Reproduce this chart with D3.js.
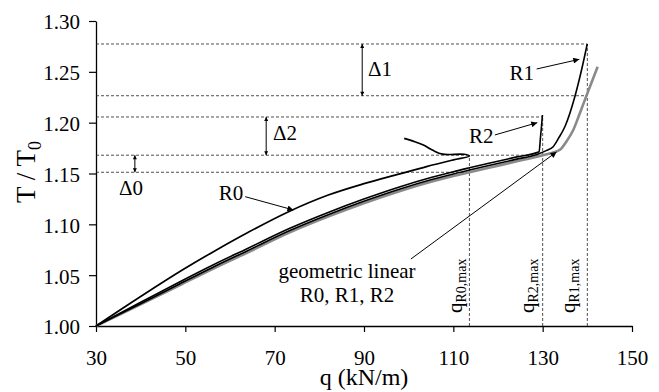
<!DOCTYPE html>
<html>
<head>
<meta charset="utf-8">
<script src="https://cdn.jsdelivr.net/npm/d3@7/dist/d3.min.js"></script>
<style>
    body { margin: 0; background: #fff; }
</style>
</head>
<body>
<script>
//Données (q en kN/m, T/T0)
const xTicks = [30, 50, 70, 90, 110, 130, 150];
const yTicks = [1.00, 1.05, 1.10, 1.15, 1.20, 1.25, 1.30];

const r0 = [[30, 1.000], [40, 1.029], [49.5, 1.0555], [56, 1.0724], [64, 1.092], [73, 1.1122],
    [82, 1.1288], [90, 1.14], [98, 1.1496], [104, 1.1568], [110, 1.1634], [113.6, 1.1672],
    [112.4, 1.1689], [107.6, 1.169], [105.4, 1.1728], [103.3, 1.178], [101.0, 1.1818], [99.0, 1.1845]];

const r1 = [[30, 1.000], [40, 1.0218], [48.8, 1.0416], [56.3, 1.0581], [63.7, 1.0736], [73.4, 1.0939],
    [82.4, 1.1102], [89.8, 1.1224], [98.1, 1.1348], [105, 1.1438], [110, 1.1496], [113.6, 1.1534],
    [118.2, 1.1581], [124, 1.1639], [129, 1.1692], [130.8, 1.1725], [132.35, 1.1764], [133.6, 1.185],
    [134.97, 1.196], [137.2, 1.2255], [138.7, 1.2518], [139.98, 1.2774]];

const r2 = [[30, 1.000], [40, 1.0233], [48.8, 1.0436], [56.3, 1.0603], [63.7, 1.0758], [73.4, 1.0961],
    [82.4, 1.1124], [89.8, 1.1246], [98.1, 1.137], [105, 1.146], [110, 1.1518], [113.6, 1.1556],
    [118.2, 1.1603], [124, 1.1661], [129.2, 1.1713], [129.5, 1.185], [129.75, 1.197], [129.95, 1.2075]];

const linear = [[30, 1.000], [40, 1.0212], [48.8, 1.0403], [56.3, 1.0566], [63.7, 1.0718], [73.4, 1.0921],
    [82.4, 1.1083], [89.8, 1.1205], [98.1, 1.1328], [105, 1.1418], [110, 1.1475], [113.6, 1.1512],
    [118.2, 1.1559], [124, 1.1617], [130, 1.168], [133.9, 1.1735], [135.4, 1.182], [136.85, 1.1928],
    [138.3, 1.209], [139.8, 1.2265], [142.3, 1.255]];

//Charges maximales et niveaux de référence
const qMaxNames = ["R0,max", "R2,max", "R1,max"];
const qMaxValues = [113.6, 130, 140];
const qMaxTops = [1.168, 1.2056, 1.2774];

const levelValues = [1.2774, 1.2265, 1.2056, 1.168, 1.1512];
const levelEnds = [140, 140, 130, 130, 113.6];

const deltaNames = ["\u03941", "\u03942", "\u03940"];
const deltaQ = [89.6, 68.1, 38.7];
const deltaFrom = [1.2774, 1.2056, 1.168];
const deltaTo = [1.2265, 1.168, 1.1512];

const font = "'Liberation Serif', 'Times New Roman', serif";

//Création du canva SVG
const svg = d3.select("body")
    .append("svg")
    .attr("width", 659)
    .attr("height", 392)
    .style("background-color", "#fff")

const x = d3.scaleLinear().domain([30, 150]).range([96, 632]);
const y = d3.scaleLinear().domain([1.0, 1.3]).range([326, 21]);

//Flèches
const defs = svg.append("defs");
defs.append("marker")
    .attr("id", "arrow")
    .attr("viewBox", "0 0 10 10")
    .attr("refX", 10).attr("refY", 5)
    .attr("markerWidth", 9).attr("markerHeight", 6)
    .attr("markerUnits", "userSpaceOnUse")
    .attr("orient", "auto")
    .append("path").attr("d", "M0,0L10,5L0,10z").attr("fill", "#000");
defs.append("marker")
    .attr("id", "small")
    .attr("viewBox", "0 0 10 10")
    .attr("refX", 10).attr("refY", 5)
    .attr("markerWidth", 5).attr("markerHeight", 4)
    .attr("markerUnits", "userSpaceOnUse")
    .attr("orient", "auto-start-reverse")
    .append("path").attr("d", "M0,0L10,5L0,10z").attr("fill", "#000");

//Axes
const xAxis = svg.append("g")
    .attr("transform", "translate(0,326)")
    .call(d3.axisBottom(x).tickValues(xTicks).tickSize(6).tickSizeOuter(0).tickPadding(18))
    .attr("font-size", 21);
xAxis.select(".domain").attr("stroke-width", 1.3);
xAxis.selectAll(".tick line").attr("stroke-width", 1.2);
xAxis.selectAll(".tick text").attr("fill", "#000");

const yAxis = svg.append("g")
    .attr("transform", "translate(96,0)")
    .call(d3.axisLeft(y).tickValues(yTicks).tickFormat(d3.format(".2f")).tickSize(7).tickSizeOuter(0).tickPadding(9))
    .attr("font-size", 21);
yAxis.select(".domain").attr("stroke-width", 1.3);
yAxis.selectAll(".tick line").attr("stroke-width", 1.2);
yAxis.selectAll(".tick text").attr("dy", "0.38em").attr("fill", "#000");

//Lignes pointillées
const dash = svg.append("g")
    .attr("stroke", "#222")
    .attr("stroke-width", 0.8)
    .attr("stroke-dasharray", "3,2")

dash.selectAll(".hline")
    .data(levelValues)
    .enter()
    .append("line")
    .attr("x1", x(30))
    .attr("x2", (d, i) => x(levelEnds[i]))
    .attr("y1", d => y(d))
    .attr("y2", d => y(d))

dash.selectAll(".vline")
    .data(qMaxValues)
    .enter()
    .append("line")
    .attr("x1", d => x(d))
    .attr("x2", d => x(d))
    .attr("y1", y(1.0))
    .attr("y2", (d, i) => y(qMaxTops[i]))

//Courbes
const line = d3.line().x(d => x(d[0])).y(d => y(d[1])).curve(d3.curveMonotoneX);
const lineR0 = d3.line().x(d => x(d[0])).y(d => y(d[1])).curve(d3.curveCatmullRom.alpha(0.5));

svg.append("path").datum(linear)
    .attr("d", line).attr("fill", "none")
    .attr("stroke", "#8a8a8a").attr("stroke-width", 2.6)

svg.append("path").datum(r1)
    .attr("d", line).attr("fill", "none")
    .attr("stroke", "#000").attr("stroke-width", 1.6)

svg.append("path").datum(r2)
    .attr("d", line).attr("fill", "none")
    .attr("stroke", "#000").attr("stroke-width", 1.6)

svg.append("path").datum(r0)
    .attr("d", lineR0).attr("fill", "none")
    .attr("stroke", "#000").attr("stroke-width", 1.7)

//Flèches Δ
const deltas = svg.append("g");
deltas.selectAll("line")
    .data(deltaQ)
    .enter()
    .append("line")
    .attr("x1", d => x(d))
    .attr("x2", d => x(d))
    .attr("y1", (d, i) => y(deltaFrom[i]))
    .attr("y2", (d, i) => y(deltaTo[i]))
    .attr("stroke", "#000")
    .attr("stroke-width", 1)
    .attr("marker-start", "url(#small)")
    .attr("marker-end", "url(#small)")

const deltaLabelPos = [[90.9, 1.2459], [69.6, 1.183], [35.15, 1.1289]];
deltas.selectAll("text")
    .data(deltaNames)
    .enter()
    .append("text")
    .attr("x", (d, i) => x(deltaLabelPos[i][0]))
    .attr("y", (d, i) => y(deltaLabelPos[i][1]))
    .attr("font-size", 21)
    .text(d => d)

//Annotations des courbes
const notes = [
    { text: "R0", at: [57.5, 1.1239], from: [63.4, 1.1272], to: [74.2, 1.1141] },
    { text: "R2", at: [113.5, 1.18], from: [119.3, 1.1879], to: [128.8, 1.2] },
    { text: "R1", at: [122.6, 1.242], from: [128.65, 1.2528], to: [138.2, 1.2623] }
];
const noteG = svg.append("g");
notes.forEach(n => {
    noteG.append("text")
        .attr("x", x(n.at[0])).attr("y", y(n.at[1]))
        .attr("font-size", 21)
        .text(n.text)
    noteG.append("line")
        .attr("x1", x(n.from[0])).attr("y1", y(n.from[1]))
        .attr("x2", x(n.to[0])).attr("y2", y(n.to[1]))
        .attr("stroke", "#000").attr("stroke-width", 1)
        .attr("marker-end", "url(#arrow)")
});

noteG.append("text")
    .attr("x", x(86.2)).attr("y", y(1.0475))
    .attr("text-anchor", "middle").attr("font-size", 21)
    .text("geometric linear")
noteG.append("text")
    .attr("x", x(86.2)).attr("y", y(1.0239))
    .attr("text-anchor", "middle").attr("font-size", 21)
    .text("R0, R1, R2")
noteG.append("line")
    .attr("x1", x(100.5)).attr("y1", y(1.0659))
    .attr("x2", x(133.1)).attr("y2", y(1.1712))
    .attr("stroke", "#000").attr("stroke-width", 1)
    .attr("marker-end", "url(#arrow)")

//Étiquettes verticales q max
const qOffsets = [-7, -9, -12.5];
qMaxNames.forEach((name, i) => {
    const t = svg.append("text")
        .attr("transform", `translate(${x(qMaxValues[i]) + qOffsets[i]},313) rotate(-90)`)
        .attr("font-size", 21)
        .text("q")
    t.append("tspan").attr("font-size", 14).attr("dy", 4).text(name)
});

//Titres des axes
svg.append("text")
    .attr("x", 364).attr("y", 385)
    .attr("text-anchor", "middle")
    .attr("font-size", 24)
    .text("q (kN/m)")

const yTitle = svg.append("text")
    .attr("transform", "translate(35,172) rotate(-90)")
    .attr("text-anchor", "middle")
    .attr("font-size", 27)
    .text("T / T")
yTitle.append("tspan").attr("font-size", 18).attr("dy", 6).text("0")

//Police serif pour tous les textes
svg.selectAll("text").style("font-family", font)
</script>
</body>
</html>
